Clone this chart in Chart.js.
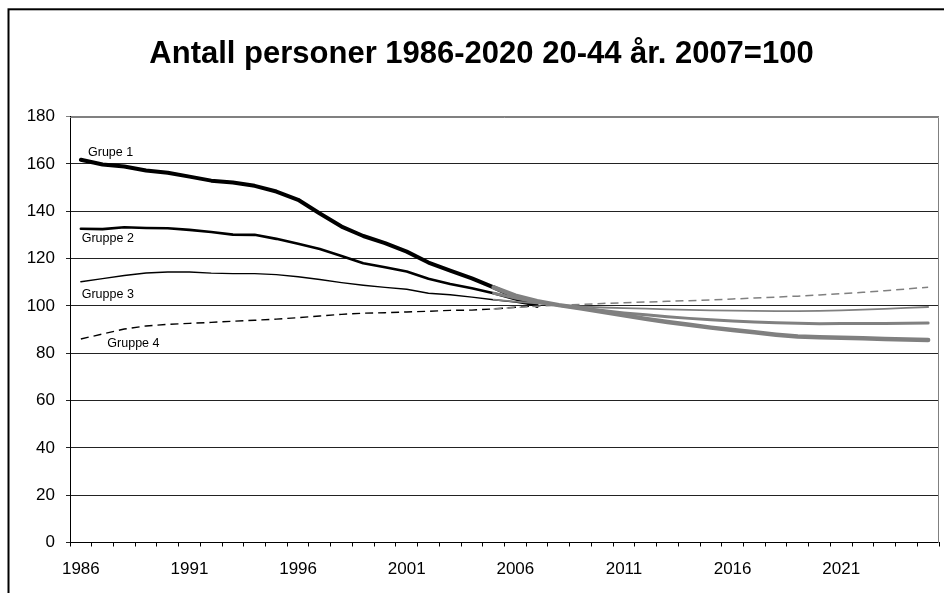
<!DOCTYPE html>
<html>
<head>
<meta charset="utf-8">
<script src="https://cdn.jsdelivr.net/npm/chart.js@4"></script>
<style>
  html, body { margin: 0; padding: 0; background: #fff; }
  canvas { display: block; }
</style>
</head>
<body>
<canvas id="chart" width="944" height="593"></canvas>
<script>
// Years on the category axis
const years = ['1986','1987','1988','1989','1990','1991','1992','1993','1994','1995',
  '1996','1997','1998','1999','2000','2001','2002','2003','2004','2005',
  '2006','2007','2008','2009','2010','2011','2012','2013','2014','2015',
  '2016','2017','2018','2019','2020','2021','2022','2023','2024','2025'];

// Registered figures, 1986-2007 (index 2007 = 100)
const grupe1Hist = [161.7, 159.7, 158.9, 157.2, 156.2, 154.6, 152.9, 152.1, 150.7, 148.3, 144.8,
  139.0, 133.5, 129.5, 126.5, 122.9, 118.3, 114.9, 111.6, 107.8, 103.7, 100.0];
const gruppe2Hist = [132.6, 132.4, 133.2, 132.9, 132.8, 132.1, 131.2, 130.1, 130.0, 128.3, 126.2,
  124.0, 121.1, 118.0, 116.3, 114.5, 111.4, 109.2, 107.4, 105.3, 102.8, 100.0];
const gruppe3Hist = [110.2, 111.5, 112.8, 113.9, 114.3, 114.3, 113.8, 113.6, 113.6, 113.2, 112.3,
  111.1, 109.8, 108.7, 107.8, 107.0, 105.3, 104.7, 103.7, 102.6, 101.6, 100.0];
const gruppe4Hist = [86.0, 88.1, 90.2, 91.5, 92.2, 92.6, 93.0, 93.5, 93.9, 94.4, 95.0,
  95.7, 96.4, 96.9, 97.1, 97.4, 97.7, 98.1, 98.2, 98.7, 99.4, 100.0];

// Projections, 2005-2025
const grupe1Proj = [107.8, 104.3, 102.0, 100.3, 99.0, 97.5, 96.0, 94.5, 93.2, 92.0, 90.8,
  89.8, 88.8, 87.8, 87.0, 86.7, 86.5, 86.3, 86.0, 85.8, 85.6];
const gruppe2Proj = [105.3, 103.3, 101.5, 100.2, 99.0, 98.0, 97.0, 96.2, 95.4, 94.7, 94.1,
  93.6, 93.2, 92.9, 92.6, 92.4, 92.5, 92.5, 92.5, 92.6, 92.7];
const gruppe3Proj = [102.6, 101.8, 101.0, 100.4, 99.8, 99.3, 99.0, 98.8, 98.5, 98.3, 98.1,
  98.0, 97.9, 97.8, 97.8, 97.9, 98.1, 98.4, 98.7, 99.1, 99.5];
const gruppe4Proj = [98.7, 99.3, 99.8, 100.3, 100.6, 101.0, 101.3, 101.6, 101.9, 102.2, 102.5,
  102.9, 103.3, 103.7, 104.1, 104.6, 105.1, 105.7, 106.4, 107.1, 107.9];

// Y axis range and step
const yMin = 0, yMax = 180, yStep = 20;

// Series names written next to the curves: [text, category position, value]
const seriesLabels = [
  ['Grupe 1', 0.33, 163.4],
  ['Gruppe 2', 0.04, 127.1],
  ['Gruppe 3', 0.04, 103.2],
  ['Gruppe 4', 1.22, 82.5]
];

const titleText = 'Antall personer 1986-2020 20-44 år. 2007=100';

const projStart = years.indexOf('2005');
const histSeries = v => years.map((_, i) => (i < v.length ? v[i] : null));
const projSeries = v => years.map((_, i) => (i >= projStart ? v[i - projStart] : null));

const BLACK = '#000000';
const GREY = '#808080';
const FONT = '"Liberation Sans", Arial, Helvetica, sans-serif';

function line(label, data, color, width, dash, order) {
  return {
    label, data,
    borderColor: color,
    backgroundColor: color,
    borderWidth: width,
    borderDash: dash || [],
    borderCapStyle: dash ? 'butt' : 'round',
    borderJoinStyle: 'round',
    pointRadius: 0,
    pointHoverRadius: 0,
    tension: 0,
    fill: false,
    spanGaps: false,
    order
  };
}

const framePlugin = {
  id: 'frame',
  beforeDraw(chart) {
    const ctx = chart.ctx;
    ctx.save();
    ctx.fillStyle = '#ffffff';
    ctx.fillRect(0, 0, chart.width, chart.height);
    ctx.restore();
  },
  afterDraw(chart) {
    const ctx = chart.ctx;
    const area = chart.chartArea;
    const xs = chart.scales.x, ys = chart.scales.y;
    ctx.save();
    // plot area edge on the right and top
    ctx.strokeStyle = GREY;
    ctx.lineWidth = 1;
    ctx.beginPath();
    const r = Math.round(area.right) - 0.5;
    const t = Math.round(area.top) + 0.5;
    ctx.moveTo(Math.round(area.left), t);
    ctx.lineTo(r, t);
    ctx.lineTo(r, Math.round(area.bottom));
    ctx.stroke();
    // outer chart frame
    ctx.strokeStyle = BLACK;
    ctx.lineWidth = 2;
    ctx.strokeRect(8.5, 9.3, chart.width + 20, chart.height + 20);
    // title
    ctx.fillStyle = BLACK;
    ctx.font = 'bold 31px ' + FONT;
    ctx.textAlign = 'center';
    ctx.textBaseline = 'alphabetic';
    ctx.fillText(titleText, 481.5, 63);
    // series names
    ctx.font = '12.5px ' + FONT;
    ctx.textAlign = 'left';
    for (const [text, pos, val] of seriesLabels) {
      ctx.fillText(text, xs.getPixelForValue(pos), ys.getPixelForValue(val));
    }
    ctx.restore();
  }
};

new Chart(document.getElementById('chart'), {
  type: 'line',
  data: {
    labels: years,
    datasets: [
      line('Grupe 1 prognose', projSeries(grupe1Proj), GREY, 4.5, null, 0),
      line('Gruppe 2 prognose', projSeries(gruppe2Proj), GREY, 3, null, 0),
      line('Gruppe 3 prognose', projSeries(gruppe3Proj), GREY, 1.8, null, 0),
      line('Gruppe 4 prognose', projSeries(gruppe4Proj), GREY, 1.5, [8, 5], 0),
      line('Grupe 1', histSeries(grupe1Hist), BLACK, 4, null, 1),
      line('Gruppe 2', histSeries(gruppe2Hist), BLACK, 2.6, null, 1),
      line('Gruppe 3', histSeries(gruppe3Hist), BLACK, 1.4, null, 1),
      line('Gruppe 4', histSeries(gruppe4Hist), BLACK, 1.4, [8, 5], 1)
    ]
  },
  options: {
    responsive: false,
    animation: false,
    devicePixelRatio: 1,
    events: [],
    layout: { padding: { top: 116.5, left: 0, right: 5, bottom: 0 } },
    plugins: {
      legend: { display: false },
      title: { display: false },
      tooltip: { enabled: false }
    },
    scales: {
      x: {
        type: 'category',
        offset: true,
        afterFit(scale) { scale.height = 50.5; },
        grid: {
          offset: true,
          drawOnChartArea: false,
          drawTicks: true,
          tickLength: 4,
          color: BLACK,
          lineWidth: 1
        },
        border: { display: true, color: BLACK, width: 1 },
        ticks: {
          autoSkip: false,
          maxRotation: 0,
          minRotation: 0,
          padding: 13,
          color: BLACK,
          font: { family: FONT, size: 17 },
          callback(value, index) { return index % 5 === 0 ? years[index] : ''; }
        }
      },
      y: {
        min: yMin,
        max: yMax,
        afterFit(scale) { scale.width = 70; },
        grid: {
          color: ctx => (ctx.tick && ctx.tick.value === yMax ? GREY : '#222222'),
          lineWidth: 1,
          drawTicks: true,
          tickLength: 4
        },
        border: { display: true, color: BLACK, width: 1 },
        ticks: {
          stepSize: yStep,
          padding: 11,
          color: BLACK,
          font: { family: FONT, size: 17 }
        }
      }
    }
  },
  plugins: [framePlugin]
});
</script>
</body>
</html>
